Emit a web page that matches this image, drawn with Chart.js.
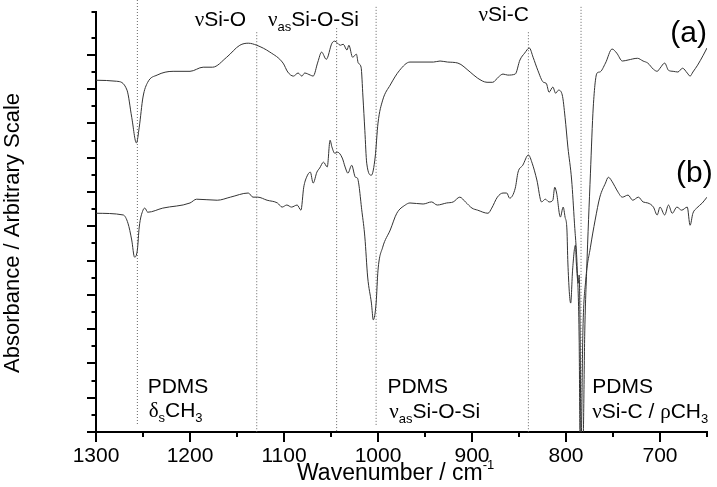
<!DOCTYPE html>
<html>
<head>
<meta charset="utf-8">
<script src="https://cdn.jsdelivr.net/npm/chart.js@4.4.0/dist/chart.umd.min.js"></script>
<style>
  html, body { margin: 0; padding: 0; background: #fff; }
  canvas { display: block; }
</style>
</head>
<body>
<canvas id="chart" width="717" height="487"></canvas>
<script>
// spectrum (a)
var waveA = [1300,1278,1267,1262,1257,1254,1250,1245,1235,1218,1200,1186,1176,1161,1147,1138,1129,1115,1101,1096,
  1090,1085,1081,1078,1072,1069,1064,1060,1055,1049,1046,1040,1037,1033,1031,1027,1023,1021,1018,1016,
  1014,1012,1007,1003,1000,995,987,977,966,941,934,926,915,902,894,884,878,872,867,862,
  854,849,844,839,835,830,824,821,818,814,811,808,804,801,798,794,791,788,786,785,
  782,780,778,774,771,767,764,758,751,746,740,734,724,718,713,707,703,700,695,691,
  686,681,676,671,668,665,660,654,650];
var absA = [10.26,10.23,9.97,9.18,8.43,8.89,9.77,10.20,10.41,10.52,10.52,10.64,10.64,10.93,11.28,11.34,11.28,11.08,10.76,10.50,
  10.38,10.47,10.38,10.47,10.41,10.38,10.79,11.08,10.87,11.34,11.40,11.28,11.31,11.14,11.28,10.93,11.02,10.76,10.64,9.77,
  8.80,7.84,7.49,8.02,9.01,9.68,10.12,10.55,10.79,10.79,10.82,10.79,10.76,10.50,10.32,10.20,10.20,10.35,10.44,10.41,
  10.44,10.85,11.05,11.20,10.93,10.55,10.20,10.17,9.91,10.06,9.88,9.97,9.83,9.18,8.31,7.35,6.09,4.72,2.68,-0.4,
  -0.4,2.97,4.72,7.55,9.48,10.47,10.50,10.76,11.17,11.05,10.82,10.85,10.90,10.82,10.76,10.58,10.52,10.61,10.76,10.55,
  10.52,10.50,10.61,10.47,10.38,10.50,10.70,10.99,11.20];

// spectrum (b)
var waveB = [1300,1271,1266,1262,1259,1256,1254,1250,1248,1245,1229,1200,1193,1171,1157,1138,1133,1128,1118,1107,
  1102,1097,1092,1086,1082,1079,1076,1072,1069,1065,1062,1058,1054,1051,1049,1046,1043,1038,1035,1032,
  1028,1024,1022,1017,1014,1011,1007,1005,1002,1000,995,987,980,971,966,952,943,937,927,920,
  913,907,900,894,883,879,873,867,863,860,854,851,846,840,836,831,826,822,818,814,
  812,810,806,803,801,799,798,795,793,790,789,787,786,785,784,782,779,774,769,764,
  758,755,750,746,740,734,729,723,718,713,707,703,700,695,691,687,682,677,671,668,
  665,661,655,650];
var absB = [6.38,6.33,6.09,5.60,5.10,5.31,5.98,6.47,6.53,6.41,6.53,6.68,6.79,6.76,6.85,6.97,6.85,6.85,6.76,6.68,
  6.56,6.62,6.56,6.62,6.47,7.14,7.43,7.58,7.26,7.58,7.70,7.87,7.73,8.51,8.31,8.13,8.16,7.99,7.73,7.55,
  7.78,7.43,7.41,6.41,5.69,4.52,3.76,3.27,3.76,4.72,5.39,5.89,6.38,6.62,6.68,6.65,6.71,6.62,6.68,6.71,
  6.85,6.71,6.53,6.47,6.38,6.53,6.85,6.97,6.97,6.82,7.11,7.58,7.78,8.08,7.84,7.35,6.71,6.79,6.71,6.76,
  7.14,6.97,6.27,6.56,6.27,5.89,4.93,3.76,4.72,5.45,4.93,4.34,4.58,2.97,-0.4,2.97,4.43,5.39,6.18,6.85,
  7.26,7.43,7.26,7.06,6.85,6.91,6.76,6.85,6.71,6.68,6.56,6.33,6.56,6.33,6.62,6.38,6.56,6.47,6.56,6.03,
  6.38,6.53,6.68,6.85];

// band markers (dotted lines)
var bandWave = [1256, 1129, 1044, 1002, 840, 784];
var bandTop = [12.6, 11.66, 11.78, 12.4, 11.66, 12.4];
var bandBottom = [0.2, 0, 0, 0.15, 0, 0.15];

// x tick labels
var xLabels = [1300, 1200, 1100, 1000, 900, 800, 700];

var SANS = '"Liberation Sans", Arial, sans-serif';
var SERIF = '"Liberation Serif", "Times New Roman", serif';

// annotation texts, anchored in data coordinates (left / baseline)
var notes = [
  { w: 1195, v: 11.84, parts: [['ν', 'g'], ['Si-O', 'n']] },
  { w: 1117, v: 11.84, parts: [['ν', 'g'], ['as', 's'], ['Si-O-Si', 'n']] },
  { w: 893, v: 11.98, parts: [['ν', 'g'], ['Si-C', 'n']] },
  { w: 689, v: 11.37, parts: [['(a)', 'big']] },
  { w: 683, v: 7.29, parts: [['(b)', 'big']] },
  { w: 1245, v: 1.14, parts: [['PDMS', 'n']] },
  { w: 1244, v: 0.44, parts: [['δ', 'g'], ['s', 's'], ['CH', 'n'], ['3', 's']] },
  { w: 990, v: 1.14, parts: [['PDMS', 'n']] },
  { w: 988, v: 0.41, parts: [['ν', 'g'], ['as', 's'], ['Si-O-Si', 'n']] },
  { w: 772, v: 1.14, parts: [['PDMS', 'n']] },
  { w: 772, v: 0.41, parts: [['ν', 'g'], ['Si-C / ', 'n'], ['ρ', 'g'], ['CH', 'n'], ['3', 's']] }
];

var partStyle = {
  n: { font: '21px ' + SANS, dy: 0 },
  g: { font: '21px ' + SERIF, dy: 0 },
  s: { font: '13px ' + SANS, dy: 5 },
  sup: { font: '13px ' + SANS, dy: -11 },
  big: { font: '30px ' + SANS, dy: 0 },
  title: { font: '23px ' + SANS, dy: 0 }
};

function points(xs, ys) {
  return xs.map(function (x, i) { return { x: x, y: ys[i] }; });
}

function drawParts(ctx, x, y, parts) {
  parts.forEach(function (p) {
    var st = partStyle[p[1]];
    ctx.font = st.font;
    ctx.fillText(p[0], x, y + st.dy);
    x += ctx.measureText(p[0]).width;
  });
}

var decor = {
  id: 'decor',
  afterDraw: function (chart) {
    var ctx = chart.ctx, xs = chart.scales.x, ys = chart.scales.y, area = chart.chartArea;
    ctx.save();

    // tick marks, long for major and short for minor
    ctx.strokeStyle = '#000';
    ctx.lineWidth = 2;
    ctx.beginPath();
    xs.ticks.forEach(function (t) {
      var px = Math.round(xs.getPixelForValue(t.value));
      var len = t.value % 100 === 0 ? 10 : 5;
      ctx.moveTo(px, area.bottom);
      ctx.lineTo(px, area.bottom + len);
    });
    ys.ticks.forEach(function (t) {
      var py = Math.round(ys.getPixelForValue(t.value));
      var len = t.value % 1 === 0 ? 9 : 4.5;
      ctx.moveTo(area.left, py);
      ctx.lineTo(area.left - len, py);
    });
    ctx.stroke();

    ctx.fillStyle = '#000';
    ctx.textAlign = 'left';
    ctx.textBaseline = 'alphabetic';

    notes.forEach(function (n) {
      drawParts(ctx, xs.getPixelForValue(n.w), ys.getPixelForValue(n.v), n.parts);
    });

    // axis titles
    drawParts(ctx, 297, 480, [['Wavenumber / cm', 'title'], ['-1', 'sup']]);

    ctx.translate(19, 373);
    ctx.rotate(-Math.PI / 2);
    ctx.font = '22px ' + SANS;
    ctx.fillText('Absorbance / Arbitrary Scale', 0, 0);
    ctx.restore();
  }
};

var datasets = [
  { data: points(waveA, absA), borderColor: '#333', borderWidth: 1, pointRadius: 0, cubicInterpolationMode: 'monotone' },
  { data: points(waveB, absB), borderColor: '#333', borderWidth: 1, pointRadius: 0, cubicInterpolationMode: 'monotone' }
];
bandWave.forEach(function (w, i) {
  datasets.push({
    data: [{ x: w, y: bandTop[i] }, { x: w, y: bandBottom[i] }],
    borderColor: '#666',
    borderWidth: 1,
    borderDash: [1, 2],
    pointRadius: 0,
    clip: false
  });
});

new Chart(document.getElementById('chart'), {
  type: 'line',
  data: { datasets: datasets },
  options: {
    responsive: false,
    animation: false,
    devicePixelRatio: 1,
    events: [],
    layout: { padding: { top: 12, right: 10, left: 0, bottom: 0 } },
    plugins: { legend: { display: false }, tooltip: { enabled: false } },
    scales: {
      x: {
        type: 'linear',
        reverse: true,
        min: 650,
        max: 1300,
        ticks: {
          stepSize: 50,
          autoSkip: false,
          maxRotation: 0,
          padding: 2,
          color: '#000',
          font: { family: SANS, size: 21 },
          callback: function (v) { return xLabels.indexOf(v) >= 0 ? String(v) : ''; }
        },
        grid: { drawOnChartArea: false, drawTicks: true, tickLength: 10, color: 'rgba(0,0,0,0)' },
        border: { display: true, color: '#000', width: 2 },
        afterFit: function (s) { s.height = 55; s.paddingLeft = 0; s.paddingRight = 0; }
      },
      y: {
        type: 'linear',
        min: 0,
        max: 12.25,
        ticks: { display: false, stepSize: 0.5 },
        grid: { drawOnChartArea: false, drawTicks: false, color: 'rgba(0,0,0,0)' },
        border: { display: true, color: '#000', width: 2 },
        afterFit: function (s) { s.width = 96; }
      }
    }
  },
  plugins: [decor]
});
</script>
</body>
</html>
